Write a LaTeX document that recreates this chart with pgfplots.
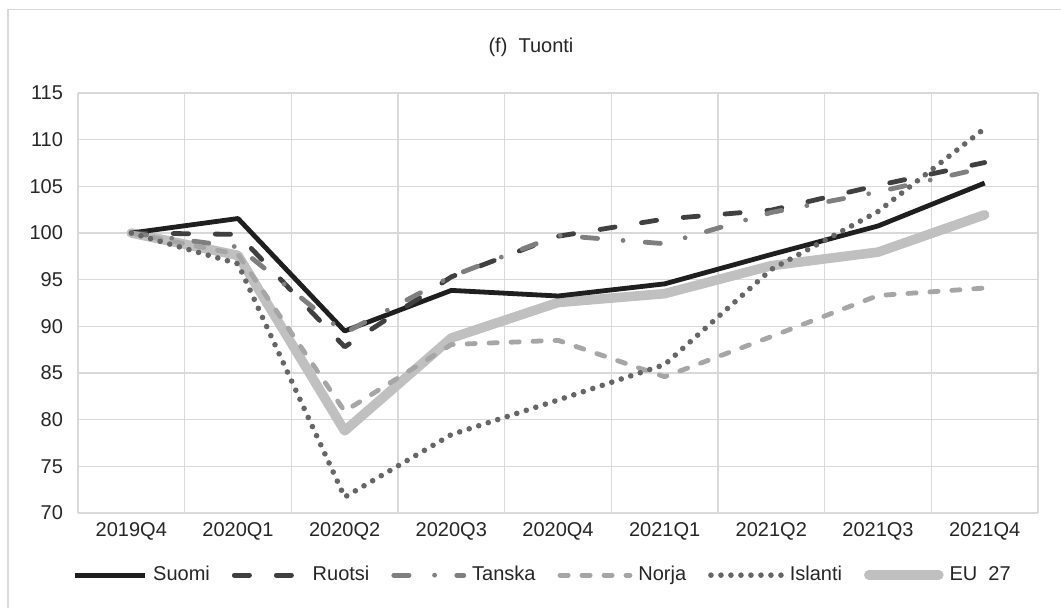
\documentclass[border=0pt]{standalone}
\usepackage{pgfplots}
\pgfplotsset{compat=1.18}
\usepackage{fontspec}
\setmainfont{Liberation Sans}
\definecolor{gridc}{HTML}{D9D9D9}
\definecolor{txt}{HTML}{262626}
\definecolor{cSuomi}{HTML}{1F1F1F}
\definecolor{cRuotsi}{HTML}{404040}
\definecolor{cTanska}{HTML}{7F7F7F}
\definecolor{cNorja}{HTML}{A6A6A6}
\definecolor{cIslanti}{HTML}{666666}
\definecolor{cEU}{HTML}{C0C0C0}
\tikzset{
  sSuomi/.style={color=cSuomi, line width=2.4pt, line join=round},
  sRuotsi/.style={color=cRuotsi, line width=2.4pt, line cap=round, line join=round, dash pattern=on 7.6pt off 13.4pt},
  sTanska/.style={color=cTanska, line width=2.4pt, line cap=round, line join=round, dash pattern=on 7.6pt off 12.8pt on 0pt off 11.1pt},
  sNorja/.style={color=cNorja, line width=2.4pt, line cap=round, line join=round, dash pattern=on 4.1pt off 6.9pt},
  sIslanti/.style={color=cIslanti, line width=2.8pt, line cap=round, line join=round, dash pattern=on 0pt off 5pt},
  sEU/.style={color=cEU, line width=4.8pt, line cap=round, line join=round},
}
\begin{document}
\begin{tikzpicture}
\useasboundingbox (-39pt,-47.5pt) rectangle (491.5pt,256.5pt);
\draw[color=gridc, line width=0.6pt] (-35pt,-80pt) rectangle (520pt,251.75pt);
\node[font=\fontsize{10}{12}\selectfont, text=txt] at (226.5pt,233pt) {(f)\ \ Tuonti};
\begin{axis}[
  scale only axis, width=480pt, height=210pt,
  xmin=-0.5, xmax=8.5, ymin=70, ymax=115,
  xtick={0,...,8},
  xticklabels={2019Q4,2020Q1,2020Q2,2020Q3,2020Q4,2021Q1,2021Q2,2021Q3,2021Q4},
  minor xtick={-0.5,0.5,...,8.5},
  xminorgrids, ymajorgrids,
  ytick={70,75,...,115},
  major tick length=0pt, minor tick length=0pt,
  axis line style={draw=none},
  grid style={color=gridc, line width=0.6pt},
  minor grid style={color=gridc, line width=0.6pt},
  tick label style={font=\fontsize{10}{12}\selectfont, text=txt},
  /pgf/number format/assume math mode=true,
  yticklabel style={xshift=-4pt},
  xticklabel style={yshift=-1pt},
  legend columns=-1,
  legend style={at={(axis description cs:0.485,-0.148)}, anchor=center, draw=none, fill=none,
    font=\fontsize{10}{12}\selectfont, text=txt,
    /tikz/every odd column/.append style={column sep=1pt},
    /tikz/every even column/.append style={column sep=9pt}},
  legend image code/.code={\draw[#1] (0pt,0pt) -- (35pt,0pt);},
  clip=false,
]
\addplot[sEU, forget plot] coordinates {(0,100) (1,97.6) (2,78.8) (3,88.75) (4,92.55) (5,93.5) (6,96.5) (7,97.95) (8,101.95)};
\addplot[sSuomi] coordinates {(0,100) (1,101.55) (2,89.5) (3,93.85) (4,93.25) (5,94.55) (6,97.7) (7,100.75) (8,105.35)};
\addlegendentry{Suomi}
\addplot[sRuotsi] coordinates {(0,100) (1,99.85) (2,87.8) (3,95.3) (4,99.65) (5,101.5) (6,102.45) (7,105.1) (8,107.55)};
\addlegendentry{Ruotsi}
\addplot[sTanska] coordinates {(0,100) (1,98.5) (2,89.3) (3,95.35) (4,99.75) (5,98.85) (6,102.2) (7,104.4) (8,107.0)};
\addlegendentry{Tanska}
\addplot[sNorja] coordinates {(0,100) (1,97.7) (2,80.9) (3,88.05) (4,88.5) (5,84.6) (6,88.9) (7,93.3) (8,94.1)};
\addlegendentry{Norja}
\addplot[sIslanti] coordinates {(0,100) (1,96.7) (2,71.7) (3,78.4) (4,82.1) (5,85.9) (6,96.1) (7,102.3) (8,111.2)};
\addlegendentry{Islanti}
\addlegendimage{sEU}
\addlegendentry{EU\ \ 27}
\end{axis}
\end{tikzpicture}
\end{document}
